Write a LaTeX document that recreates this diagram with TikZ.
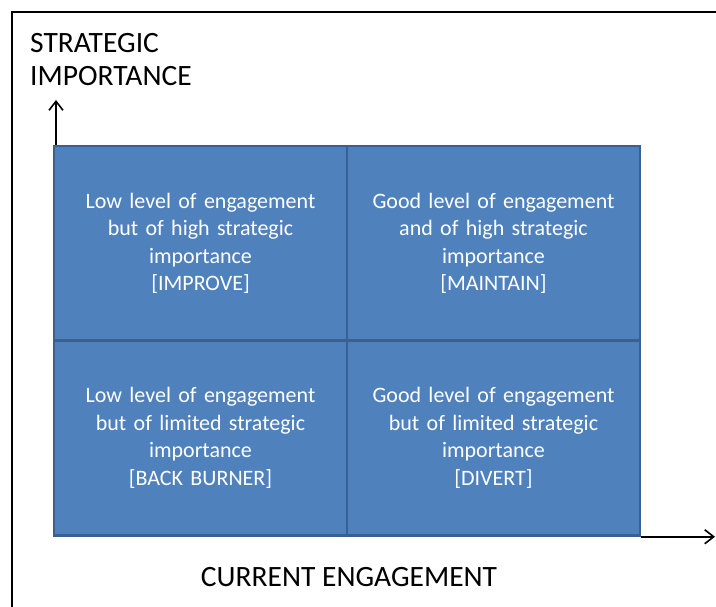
\documentclass[tikz,border=0pt]{standalone}
\usepackage{fontspec}
\setmainfont{Carlito}
\usetikzlibrary{positioning, arrows.meta}
\definecolor{CellBlue}{HTML}{4F81BD}
\definecolor{CellEdge}{HTML}{3A6093}

\begin{document}
\begin{tikzpicture}[x=1pt, y=-1pt,
    cell/.style={draw=CellEdge, line width=2.5pt, fill=CellBlue, text=white,
        minimum width=293pt, minimum height=195pt, text width=260pt, align=center,
        font=\fontsize{22}{27.5}\selectfont, inner sep=0pt},
    axis/.style={-{Straight Barb[length=9pt, width=14pt]}, line width=1.6pt},
    axislabel/.style={font=\fontsize{29.5}{33}\selectfont, inner sep=0pt}]
    \useasboundingbox (0,0) rectangle (716,607);
    \draw[line width=1.8pt] (12,607) -- (12,12) -- (716,12);

    \node[cell] (improve) at (200.5,243.5) {Low level of engagement\\but of high strategic\\importance\\{[IMPROVE]}};
    \node[cell] (maintain) at (493.5,243.5) {Good level of engagement\\and of high strategic\\importance\\{[MAINTAIN]}};
    \node[cell] (backburner) at (200.5,438) {Low level of engagement\\but of limited strategic\\importance\\{[BACK BURNER]}};
    \node[cell] (divert) at (493.5,438) {Good level of engagement\\but of limited strategic\\importance\\{[DIVERT]}};

    \coordinate (ytip) at (56,100);
    \coordinate (xtip) at (715,535);
    \draw[axis] (improve.north west -| ytip) -- (ytip);
    \draw[axis] (divert.south east) -- (divert.south east -| xtip);

    \node[axislabel, align=left, anchor=base west] (ylabel) at (30,86) {STRATEGIC\\IMPORTANCE};
    \node[axislabel, anchor=base] (xlabel) at (349,586) {CURRENT ENGAGEMENT};
\end{tikzpicture}
\end{document}
